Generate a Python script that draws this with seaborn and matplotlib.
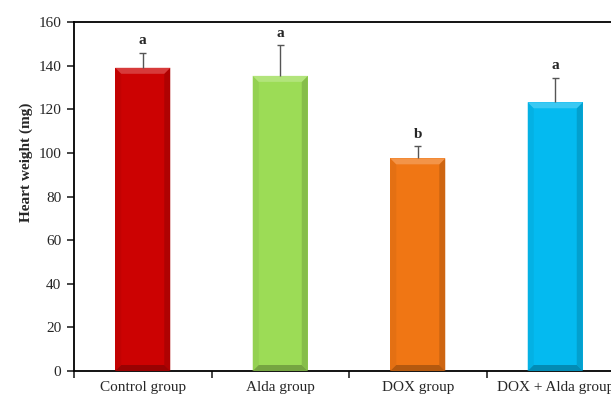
import numpy as np
import pandas as pd
import matplotlib
matplotlib.use("Agg")
import matplotlib.pyplot as plt
import matplotlib.colors as mcolors
from matplotlib.patches import Polygon
import seaborn as sns

groups = ["Control group", "Alda group", "DOX group", "DOX + Alda group"]
heart_weight = [139.0, 135.3, 97.5, 123.2]
sem = [7.0, 14.0, 5.5, 11.2]
letters = ["a", "a", "b", "a"]
bar_colors = ["#CC0202", "#9CDC56", "#F07614", "#04BAF0"]
y_ticks = [0, 20, 40, 60, 80, 100, 120, 140, 160]

sns.set_style("white")
plt.rcParams["font.family"] = ["Liberation Serif", "DejaVu Serif"]

df = pd.DataFrame({"group": groups, "weight": heart_weight})

fig = plt.figure(figsize=(6.11, 3.97), dpi=100)
ax = fig.add_axes([74 / 611, 26 / 397, 550 / 611, 349 / 397])

sns.barplot(data=df, x="group", y="weight", hue="group", palette=bar_colors,
            width=0.4, legend=False, ax=ax, errorbar=None, saturation=1,
            edgecolor="none", linewidth=0)

ax.set_xlim(-0.5, 3.5)
ax.set_ylim(0, 160)
ax.set_yticks(y_ticks)

# upward-only error bars: a stem from the bar top plus a small cap
fig.canvas.draw()
px_x = (ax.get_xlim()[1] - ax.get_xlim()[0]) / ax.bbox.width
px_y = (ax.get_ylim()[1] - ax.get_ylim()[0]) / ax.bbox.height
xs = np.arange(len(groups))
tops = np.array(heart_weight) + np.array(sem)
ax.vlines(xs, heart_weight, tops, colors="#555555", linewidth=1.0, zorder=4)
ax.hlines(tops, xs - 3.5 * px_x, xs + 3.5 * px_x, colors="#555555",
          linewidth=1.0, zorder=4)

# significance letters
for i, (v, e, t) in enumerate(zip(heart_weight, sem, letters)):
    ax.annotate(t, (i, v + e), xytext=(0, 4), textcoords="offset points",
                ha="center", va="bottom", fontsize=11, fontweight="bold")

# bevelled look on each bar
bx, by = 6 * px_x, 6 * px_y
for patch, col in zip(ax.patches, bar_colors):
    x0 = patch.get_x()
    w = patch.get_width()
    h = patch.get_height()
    x1 = x0 + w
    base = np.array(mcolors.to_rgb(col))
    light = np.clip(base + (1 - base) * 0.22, 0, 1)
    dark = base * 0.75
    mid_dark = base * 0.86
    top = Polygon([[x0, h], [x1, h], [x1 - bx, h - by], [x0 + bx, h - by]],
                  closed=True, facecolor=light, edgecolor="none", zorder=3)
    right = Polygon([[x1, h], [x1, 0], [x1 - bx, by], [x1 - bx, h - by]],
                    closed=True, facecolor=mid_dark, edgecolor="none", zorder=3)
    left = Polygon([[x0, h], [x0, 0], [x0 + bx, by], [x0 + bx, h - by]],
                   closed=True, facecolor=np.clip(base * 0.95, 0, 1),
                   edgecolor="none", zorder=3)
    bottom = Polygon([[x0, 0], [x1, 0], [x1 - bx, by], [x0 + bx, by]],
                     closed=True, facecolor=dark, edgecolor="none", zorder=3)
    for p in (left, right, bottom, top):
        ax.add_patch(p)

# frame and ticks
for side in ("left", "bottom", "top", "right"):
    ax.spines[side].set_visible(True)
    ax.spines[side].set_color("black")
    ax.spines[side].set_linewidth(1.3)

ax.set_xticks([-0.5, 0.5, 1.5, 2.5, 3.5], minor=False)
ax.set_xticklabels([])
ax.set_xticks(range(len(groups)), minor=True)
ax.set_xticklabels(groups, minor=True, fontsize=11)
ax.tick_params(axis="x", which="major", direction="out", length=5, width=1.2,
               bottom=True)
ax.tick_params(axis="x", which="minor", length=0, pad=7)
ax.tick_params(axis="y", direction="out", length=5, width=1.2, left=True,
               labelsize=11, pad=4)

ax.set_xlabel("")
ax.set_ylabel("Heart weight (mg)", fontsize=11, fontweight="bold")
ax.yaxis.set_label_coords(-0.074, 0.599)

fig.savefig("out.png", dpi=100)
